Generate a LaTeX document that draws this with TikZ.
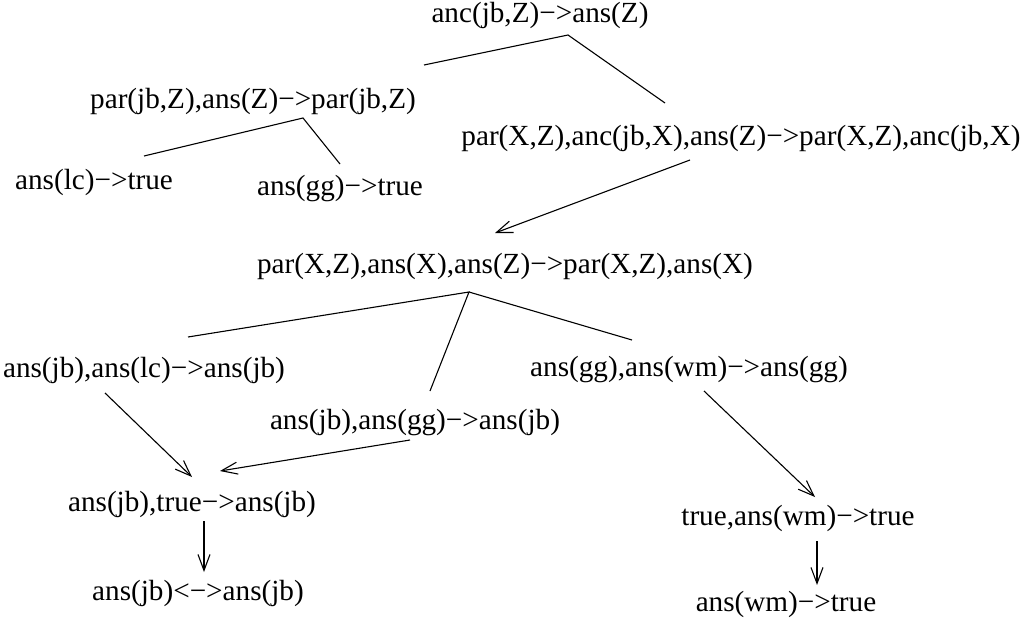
\documentclass[tikz,border=0pt]{standalone}
\usepackage{fontspec}
\setmainfont{Liberation Serif}
\usetikzlibrary{arrows.meta}
\begin{document}
\begin{tikzpicture}[x=1pt,y=-1pt,
  lbl/.style={inner sep=0pt,font=\fontsize{29.2}{34}\selectfont,anchor=base,text height=20pt,text depth=6pt},
  edge/.style={line width=1.1pt},
  arr/.style={line width=1.1pt,-{Straight Barb[length=16pt,width=12pt,line width=1.1pt]}}]
\useasboundingbox (0,0) rectangle (1026,621);
\node[lbl] (n1) at (540,22) {anc(jb,Z)−>ans(Z)};
\node[lbl] (n2) at (253,108) {par(jb,Z),ans(Z)−>par(jb,Z)};
\node[lbl] (n3) at (741,145) {par(X,Z),anc(jb,X),ans(Z)−>par(X,Z),anc(jb,X)};
\node[lbl] (n4) at (94,189) {ans(lc)−>true};
\node[lbl] (n5) at (340,195) {ans(gg)−>true};
\node[lbl] (n6) at (505,273) {par(X,Z),ans(X),ans(Z)−>par(X,Z),ans(X)};
\node[lbl] (n7) at (144,377) {ans(jb),ans(lc)−>ans(jb)};
\node[lbl] (n8) at (689,376) {ans(gg),ans(wm)−>ans(gg)};
\node[lbl] (n9) at (415,429) {ans(jb),ans(gg)−>ans(jb)};
\node[lbl] (n10) at (192,511) {ans(jb),true−>ans(jb)};
\node[lbl] (n11) at (798,525) {true,ans(wm)−>true};
\node[lbl] (n12) at (198,600) {ans(jb)<−>ans(jb)};
\node[lbl] (n13) at (786,611) {ans(wm)−>true};
% tree fork points
\coordinate (a1) at (568,35);
\coordinate (c2) at (424,65);
\coordinate (c3) at (665,103);
\coordinate (a2) at (303,118);
\coordinate (c4) at (144,156);
\coordinate (c5) at (340,164);
\coordinate (a6) at (469,292);
\coordinate (c7) at (188,337);
\coordinate (c9) at (430,391);
\coordinate (c8) at (632,340);
% arrow ends
\coordinate (s3) at (690,160);
\coordinate (t6) at (495,233);
\coordinate (s7) at (105,393);
\coordinate (t10a) at (192,477);
\coordinate (s9) at (410,440);
\coordinate (t10b) at (220,471);
\coordinate (s8) at (704,391);
\coordinate (t11) at (815,497);
\coordinate (s10) at (204,521);
\coordinate (t12) at (204,572);
\coordinate (s11) at (817,541);
\coordinate (t13) at (817,585);
\draw[edge] (c2) -- (a1) -- (c3);
\draw[edge] (c4) -- (a2) -- (c5);
\draw[edge] (c7) -- (a6) -- (c9);
\draw[edge] (a6) -- (c8);
\draw[arr] (s3) -- (t6);
\draw[arr] (s7) -- (t10a);
\draw[arr] (s9) -- (t10b);
\draw[arr] (s8) -- (t11);
\draw[arr] (s10) -- (t12);
\draw[arr] (s11) -- (t13);
\end{tikzpicture}
\end{document}
